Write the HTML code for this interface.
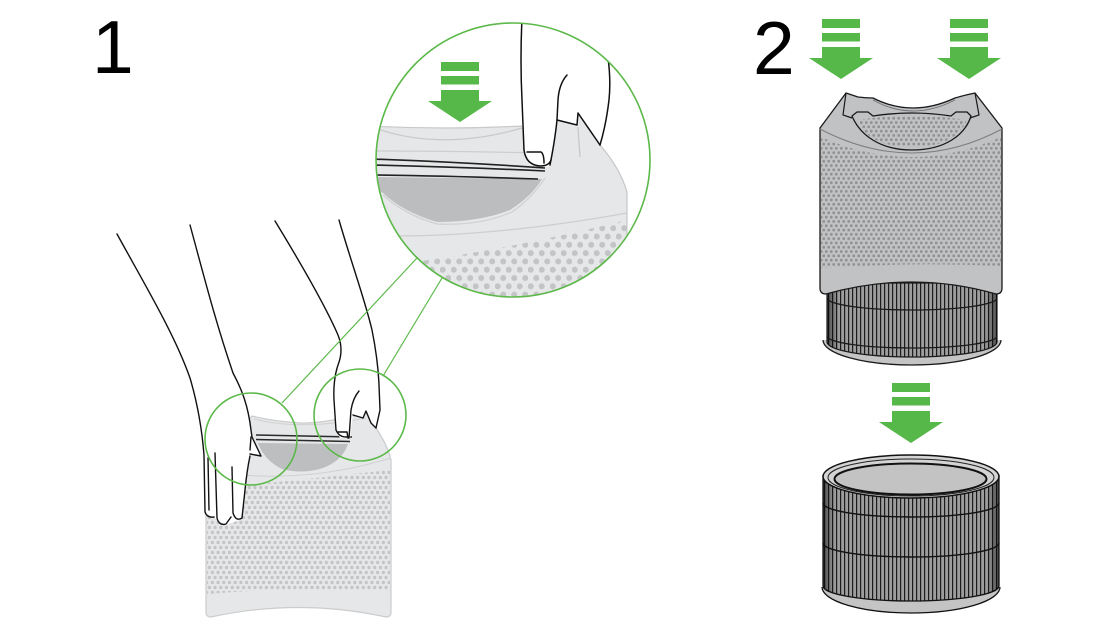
<!DOCTYPE html>
<html><head><meta charset="utf-8"><style>html,body{margin:0;padding:0;background:#fff;}svg{display:block}</style></head>
<body>
<svg xmlns="http://www.w3.org/2000/svg" width="1102" height="638" viewBox="0 0 1102 638">
<defs>
<pattern id="d1" width="5.7" height="10" patternUnits="userSpaceOnUse"><circle cx="1.4" cy="2.5" r="1.7" fill="#c3c4c6"/><circle cx="4.25" cy="7.5" r="1.7" fill="#c3c4c6"/></pattern>
<pattern id="d2" width="11" height="16.6" patternUnits="userSpaceOnUse"><circle cx="2.75" cy="4.15" r="3" fill="#c3c4c6"/><circle cx="8.25" cy="12.45" r="3" fill="#c3c4c6"/></pattern>
<pattern id="d3" width="5" height="8.6" patternUnits="userSpaceOnUse"><circle cx="1.25" cy="2.15" r="1.45" fill="#909193"/><circle cx="3.75" cy="6.45" r="1.45" fill="#909193"/></pattern>
<pattern id="pl" width="4" height="20" patternUnits="userSpaceOnUse"><rect width="4" height="20" fill="#ababab"/><rect width="1.2" height="20" fill="#1e1e1e"/></pattern>
<linearGradient id="shade" x1="0" x2="1" y1="0" y2="0">
 <stop offset="0" stop-color="#000" stop-opacity="0.55"/>
 <stop offset="0.07" stop-color="#000" stop-opacity="0.08"/>
 <stop offset="0.93" stop-color="#000" stop-opacity="0.08"/>
 <stop offset="1" stop-color="#000" stop-opacity="0.55"/>
</linearGradient>
<clipPath id="cb"><circle cx="513" cy="160" r="137"/></clipPath>
</defs>

<!-- Numbers -->
<text x="92" y="73" font-family="Liberation Sans, Arial, sans-serif" font-size="75" fill="#000">1</text>
<text x="753" y="74" font-family="Liberation Sans, Arial, sans-serif" font-size="75" fill="#000">2</text>

<!-- ===== STEP 1 purifier ===== -->
<path d="M206,466 L206,612 Q206,617 211,617 Q298,598 386,617 Q391,617 391,612 L391,460 Q388,446 376,428 L368,413 Q320,424 300,423 Q272,421 252,416 Z" fill="#e6e7e8" stroke="#cbcccd" stroke-width="1.2"/>
<path d="M207,489 Q300,480 390,470 L390,591 Q300,586 207,594 Z" fill="url(#d1)"/>
<path d="M254,419 Q300,431 366,418" stroke="#d0d1d3" stroke-width="1" fill="none"/>
<path d="M258,443 L348,444 Q342,462 320,469 Q300,474 282,469 Q264,460 258,443 Z" fill="#bdbec0"/>
<path d="M256,435 Q300,436 352,437" stroke="#2a2a2a" stroke-width="1.4" fill="none"/>
<path d="M256,439.5 Q300,440.5 350,441.5" stroke="#2a2a2a" stroke-width="1.4" fill="none"/>
<path d="M206,471 Q300,486 391,458" stroke="#cfd0d2" stroke-width="1" fill="none"/>

<!-- left hand -->
<path d="M117,234 C145,285 175,335 190,378 C198,405 202,430 204,455 L205,514 L214,518 L226,525 L242,519 L245,490 Q247,470 250,455 L261,456 L252,437 L251,430 C248,405 242,390 233,373 C215,320 205,280 190,225 Z" fill="#fff"/>
<g fill="none" stroke="#111" stroke-width="1.4" stroke-linejoin="round" stroke-linecap="round">
<path d="M117,234 C145,285 175,335 190,378 C198,405 202,430 204,455 L205,512 Q207,518 214,517"/>
<path d="M208,458 L209,510"/>
<path d="M215,453 L217,518 Q219,526 226,524 L231,517"/>
<path d="M232,467 L233,513 Q236,522 242,518 L245,490 Q247,470 250,456"/>
<path d="M190,225 C205,280 215,320 233,373 C242,390 248,405 251,430 L252,437 L261,456 L250,454"/>
<path d="M251,437 L250,450"/>
</g>
<!-- right hand -->
<path d="M275,221 C300,262 325,305 338,335 Q344,350 338,365 Q333,380 334,400 L336,430 L340,438 L350,438 L353,415 L363,418 L366,411 L371,423 L376,428 L380,410 L379,385 Q378,360 372,330 C365,300 352,265 339,220 Z" fill="#fff"/>
<g fill="none" stroke="#111" stroke-width="1.4" stroke-linejoin="round" stroke-linecap="round">
<path d="M275,221 C300,262 325,305 338,335 Q344,350 338,365 Q333,380 334,400 L336,430 Q339,437 346,437 L349,437"/>
<path d="M338,432 L347,432 L348,438"/>
<path d="M349,438 L351,410 Q353,398 359,391"/>
<path d="M353,415 L363,418 L366,411 L371,423 L376,428"/>
<path d="M339,220 C352,265 365,300 372,330 Q378,360 379,385 L380,410 L376,428"/>
</g>

<!-- small circles + connectors -->
<g fill="none" stroke="#5cb94a" stroke-width="1.6">
<circle cx="251" cy="439" r="46"/>
<circle cx="360" cy="415" r="46"/>
<line x1="282" y1="403" x2="417" y2="258" stroke-width="1.2"/>
<line x1="383" y1="376" x2="442" y2="278" stroke-width="1.2"/>
</g>

<!-- ===== Big detail circle ===== -->
<g clip-path="url(#cb)">
 <path d="M370,126 Q445,130 522,126 L558,120 L577,125 L578,113 L600,145 Q620,168 627,192 L627,300 L370,300 Z" fill="#e6e7e8"/>
 <path d="M370,268 Q500,252 627,220 L627,300 L370,300 Z" fill="url(#d2)"/>
 <path d="M372,127 Q440,152 522,128" stroke="#c8c9cb" stroke-width="1.2" fill="none"/>
 <path d="M370,126 Q445,130 522,126" stroke="#c8c9cb" stroke-width="1.2" fill="none"/>
 <path d="M372,151 Q450,151 540,153" stroke="#cdced0" stroke-width="1.2" fill="none"/>
 <path d="M370,177 L542,179 Q532,196 510,210 Q480,222 437,222 Q403,212 383,193 L370,185 Z" fill="#bcbdbf"/>
 <path d="M383,195 Q405,215 437,224 Q480,226 512,212 Q532,198 545,178" stroke="#cfd0d2" stroke-width="1.2" fill="none"/>
 <path d="M372,159 Q460,162 545,168" stroke="#222" stroke-width="1.6" fill="none"/>
 <path d="M372,165 Q460,167 545,171" stroke="#222" stroke-width="1.6" fill="none"/>
 <path d="M375,175 Q450,176 538,179" stroke="#222" stroke-width="1.6" fill="none"/>
 <path d="M395,236 Q500,236 627,213" stroke="#cdced0" stroke-width="1.2" fill="none"/>
 <path d="M600,145 Q620,168 627,192 L627,300" stroke="#c5c6c8" stroke-width="1.2" fill="none"/>
 <path d="M578,127 L580,157" stroke="#c5c6c8" stroke-width="1.2" fill="none"/>
 <!-- finger -->
 <path d="M522,18 L521,53 L524,150 L530,165 L548,167 L553,153 L557,120 L577,125 L578,113 L600,145 L605,127 L610,97 L608,58 L606,18 Z" fill="#fff"/>
 <g fill="none" stroke="#111" stroke-width="1.5" stroke-linejoin="round" stroke-linecap="round">
  <path d="M522,18 Q520,60 522,100 L524,150 Q526,165 540,166 Q549,166 551,160"/>
  <path d="M567,75 Q559,84 558,100 L557,120 Q555,140 550,165"/>
  <path d="M527,152 L541,152 Q544,154 544,163"/>
  <path d="M608,58 Q611,80 609,100 Q606,125 600,145"/>
  <path d="M557,120 L577,125 L578,113 L600,145"/>
 </g>
 <!-- arrow in circle -->
 <g fill="#55b848">
  <rect x="441" y="62" width="38" height="9"/>
  <rect x="441" y="76" width="38" height="8.5"/>
  <path d="M441,90 H479 V101 H492 L460,122 L428,101 H441 Z"/>
 </g>
</g>
<circle cx="513" cy="160" r="137" fill="none" stroke="#5cb94a" stroke-width="1.6"/>

<!-- ===== STEP 2 ===== -->
<g fill="#55b848">
 <rect x="822" y="19" width="38" height="9"/>
 <rect x="822" y="33" width="38" height="8.5"/>
 <path d="M822,47 H860 V58 H873 L841,79 L809,58 H822 Z"/>
 <rect x="950" y="19" width="38" height="9"/>
 <rect x="950" y="33" width="38" height="8.5"/>
 <path d="M950,47 H988 V58 H1001 L969,79 L937,58 H950 Z"/>
 <rect x="892" y="383" width="38" height="9"/>
 <rect x="892" y="397" width="38" height="8.5"/>
 <path d="M892,411 H930 V422 H943 L911,443 L879,422 H892 Z"/>
</g>

<!-- filter under purifier -->
<path d="M823,340 A89,25 0 0 0 1001,340 L997,340 L827,340 Z" fill="#c4c4c4"/>
<path d="M823,340 A89,25 0 0 0 1001,340" fill="none" stroke="#1a1a1a" stroke-width="1.3"/>
<path d="M827,283 L827,342 A85,15 0 0 0 997,342 L997,283 Z" fill="url(#pl)" stroke="#1a1a1a" stroke-width="1.2"/>
<path d="M827,283 L827,342 A85,15 0 0 0 997,342 L997,283 Z" fill="url(#shade)"/>
<path d="M827,298 A85,12 0 0 0 997,298" stroke="#1a1a1a" stroke-width="1.3" fill="none"/>
<path d="M827,336 A85,12 0 0 0 997,336" stroke="#1a1a1a" stroke-width="1.3" fill="none"/>

<!-- purifier body step 2 -->
<path d="M820,128 L846,93 L858,97 Q866,98 873,98 Q912,118 955,98 Q962,96 966,95 L975,93 L1002,128 L1002,288 Q1002,294 996,294 Q912,270 826,294 Q820,294 820,288 Z" fill="#c1c2c4" stroke="#1a1a1a" stroke-width="1.3" stroke-linejoin="round"/>
<path d="M821,137 Q912,177 1001,137 L1001,266 Q912,262 821,268 Z" fill="url(#d3)"/>
<path d="M820,129 Q912,177 1002,129" stroke="#7d7e80" stroke-width="1" fill="none"/>
<path d="M873,100 Q912,122 955,100" stroke="#6e6f71" stroke-width="0.9" fill="none"/>
<path d="M852,116 L857,112 L868,112 L873,116 Q912,110 951,116 L956,112 L967,112 L971,116 C965,135 945,150 912,150 C880,150 860,135 852,116 Z" fill="#c1c2c4"/>
<path d="M857,120 Q912,112 967,120 C960,137 942,147 912,147 C882,147 864,137 857,120 Z" fill="url(#d3)"/>
<path d="M852,116 L857,112 L868,112 L873,116 Q912,110 951,116 L956,112 L967,112 L971,116 C965,135 945,150 912,150 C880,150 860,135 852,116 Z" fill="none" stroke="#1a1a1a" stroke-width="1.3" stroke-linejoin="round"/>
<path d="M846,93 L843,115 L852,118" stroke="#1a1a1a" stroke-width="1.2" fill="none"/>
<path d="M975,93 L979,115 L970,118" stroke="#1a1a1a" stroke-width="1.2" fill="none"/>

<!-- second filter -->
<path d="M822,587 A89,26 0 0 0 1000,587 L999,587 L823,587 Z" fill="#c4c4c4"/>
<path d="M822,587 A89,26 0 0 0 1000,587" fill="none" stroke="#111" stroke-width="1.3"/>
<path d="M823,476 L823,586 A88,15 0 0 0 999,586 L999,476 Z" fill="url(#pl)" stroke="#111" stroke-width="1.3"/>
<path d="M823,476 L823,586 A88,15 0 0 0 999,586 L999,476 Z" fill="url(#shade)"/>
<path d="M823,503 A88,14 0 0 0 999,503" stroke="#111" stroke-width="1.4" fill="none"/>
<path d="M823,543 A88,14 0 0 0 999,543" stroke="#111" stroke-width="1.4" fill="none"/>
<ellipse cx="911" cy="476.5" rx="88" ry="21.5" fill="#d4d4d4" stroke="#111" stroke-width="1.5"/>
<ellipse cx="911" cy="477.5" rx="83" ry="18.5" fill="none" stroke="#222" stroke-width="1"/>
<ellipse cx="910.5" cy="479" rx="76" ry="15.5" fill="#c3c3c3" stroke="#111" stroke-width="2"/>
</svg>
</body></html>
